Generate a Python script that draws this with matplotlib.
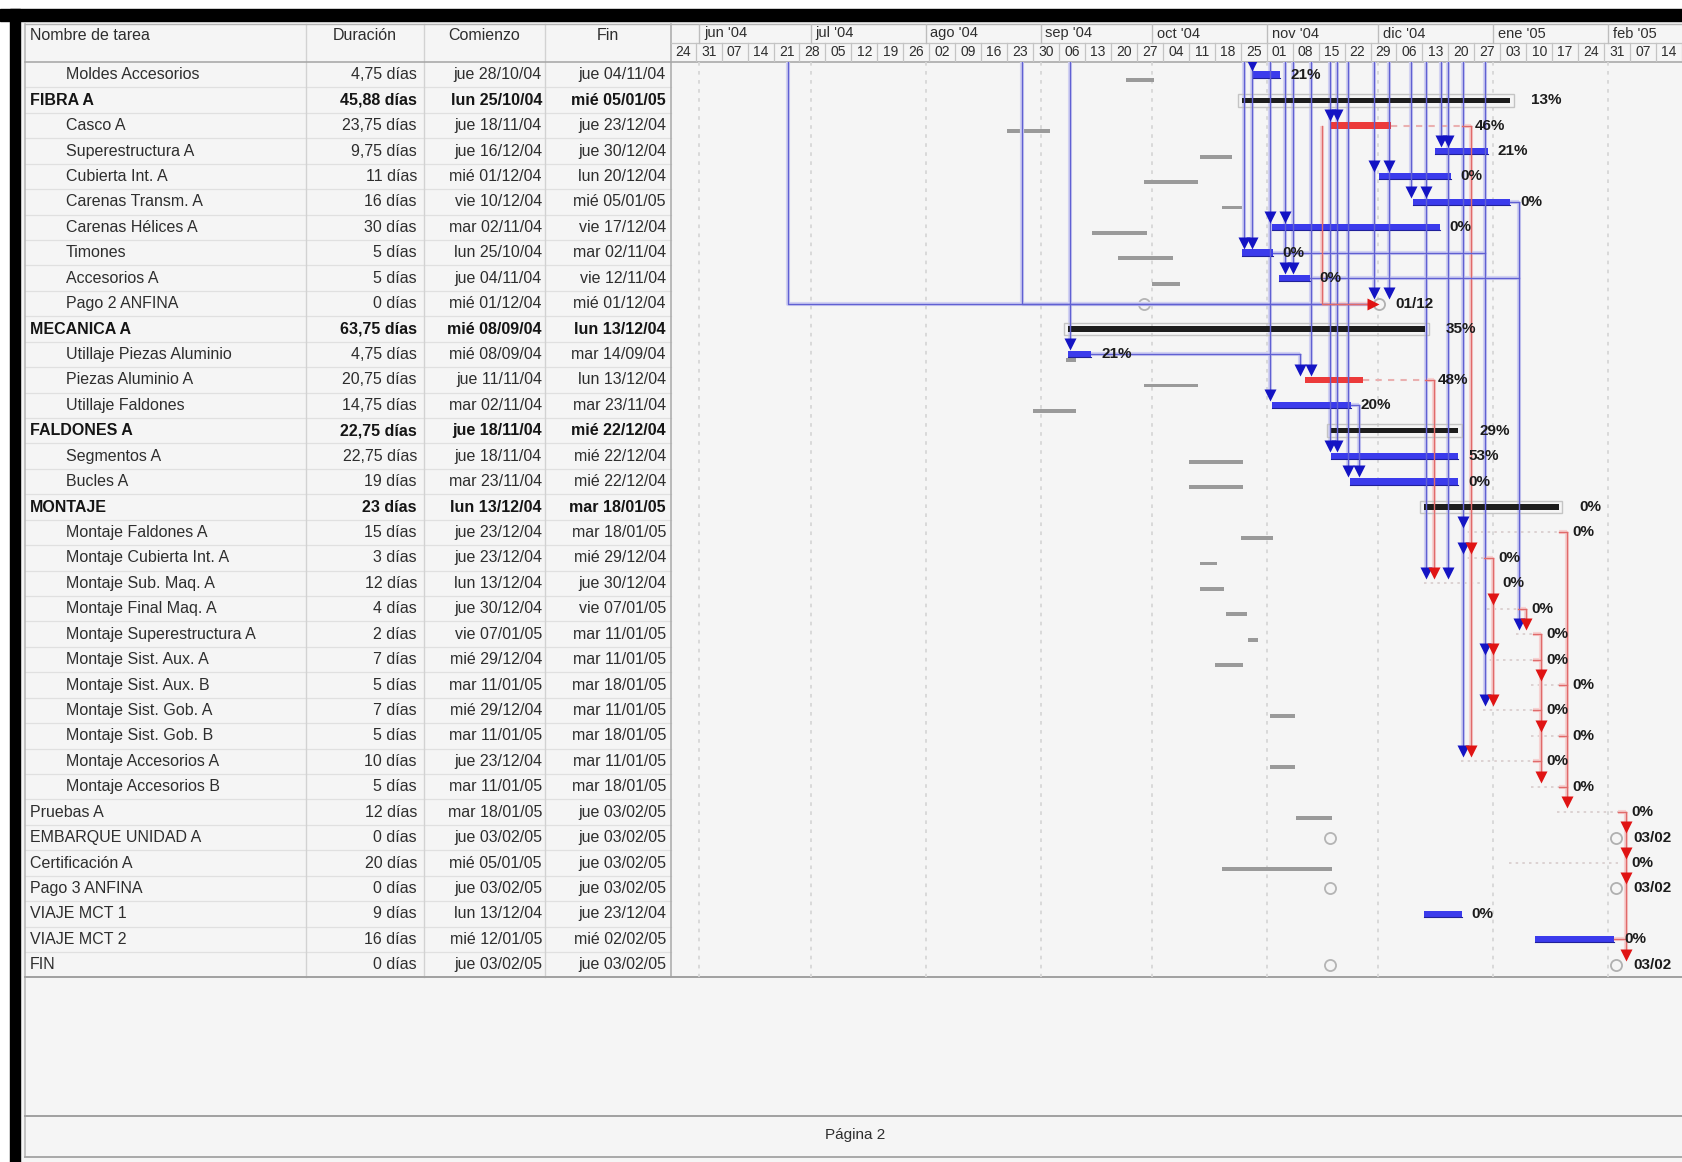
import matplotlib
matplotlib.use("Agg")
import matplotlib.pyplot as plt
import matplotlib.dates as mdates
from matplotlib.patches import Rectangle
from datetime import datetime, timedelta

plt.rcParams["font.family"] = ["Liberation Sans", "DejaVu Sans"]

# ---------------------------------------------------------------- data
task_names = [
    "Moldes Accesorios", "FIBRA A", "Casco A", "Superestructura A", "Cubierta Int. A",
    "Carenas Transm. A", "Carenas Hélices A", "Timones", "Accesorios A", "Pago 2 ANFINA",
    "MECANICA A", "Utillaje Piezas Aluminio", "Piezas Aluminio A", "Utillaje Faldones",
    "FALDONES A", "Segmentos A", "Bucles A", "MONTAJE", "Montaje Faldones A",
    "Montaje Cubierta Int. A", "Montaje Sub. Maq. A", "Montaje Final Maq. A",
    "Montaje Superestructura A", "Montaje Sist. Aux. A", "Montaje Sist. Aux. B",
    "Montaje Sist. Gob. A", "Montaje Sist. Gob. B", "Montaje Accesorios A",
    "Montaje Accesorios B", "Pruebas A", "EMBARQUE UNIDAD A", "Certificación A",
    "Pago 3 ANFINA", "VIAJE MCT 1", "VIAJE MCT 2", "FIN",
]
task_indent = [1, 0, 1, 1, 1, 1, 1, 1, 1, 1, 0, 1, 1, 1, 0, 1, 1, 0,
               1, 1, 1, 1, 1, 1, 1, 1, 1, 1, 1, 0, 0, 0, 0, 0, 0, 0]
durations = [
    "4,75 días", "45,88 días", "23,75 días", "9,75 días", "11 días", "16 días",
    "30 días", "5 días", "5 días", "0 días", "63,75 días", "4,75 días", "20,75 días",
    "14,75 días", "22,75 días", "22,75 días", "19 días", "23 días", "15 días", "3 días",
    "12 días", "4 días", "2 días", "7 días", "5 días", "7 días", "5 días", "10 días",
    "5 días", "12 días", "0 días", "20 días", "0 días", "9 días", "16 días", "0 días",
]
starts = [
    "jue 28/10/04", "lun 25/10/04", "jue 18/11/04", "jue 16/12/04", "mié 01/12/04",
    "vie 10/12/04", "mar 02/11/04", "lun 25/10/04", "jue 04/11/04", "mié 01/12/04",
    "mié 08/09/04", "mié 08/09/04", "jue 11/11/04", "mar 02/11/04", "jue 18/11/04",
    "jue 18/11/04", "mar 23/11/04", "lun 13/12/04", "jue 23/12/04", "jue 23/12/04",
    "lun 13/12/04", "jue 30/12/04", "vie 07/01/05", "mié 29/12/04", "mar 11/01/05",
    "mié 29/12/04", "mar 11/01/05", "jue 23/12/04", "mar 11/01/05", "mar 18/01/05",
    "jue 03/02/05", "mié 05/01/05", "jue 03/02/05", "lun 13/12/04", "mié 12/01/05",
    "jue 03/02/05",
]
finishes = [
    "jue 04/11/04", "mié 05/01/05", "jue 23/12/04", "jue 30/12/04", "lun 20/12/04",
    "mié 05/01/05", "vie 17/12/04", "mar 02/11/04", "vie 12/11/04", "mié 01/12/04",
    "lun 13/12/04", "mar 14/09/04", "lun 13/12/04", "mar 23/11/04", "mié 22/12/04",
    "mié 22/12/04", "mié 22/12/04", "mar 18/01/05", "mar 18/01/05", "mié 29/12/04",
    "jue 30/12/04", "vie 07/01/05", "mar 11/01/05", "mar 11/01/05", "mar 18/01/05",
    "mar 11/01/05", "mar 18/01/05", "mar 11/01/05", "mar 18/01/05", "jue 03/02/05",
    "jue 03/02/05", "jue 03/02/05", "jue 03/02/05", "jue 23/12/04", "mié 02/02/05",
    "jue 03/02/05",
]
# task = normal bar, crit = critical bar with progress, summary, milestone,
# pending = not yet drawn (dotted trace only)
bar_kinds = [
    "task", "summary", "crit", "task", "task", "task", "task", "task", "task", "milestone",
    "summary", "task", "crit", "task", "summary", "task", "task", "summary",
    "pending", "pending", "pending", "pending", "pending", "pending", "pending",
    "pending", "pending", "pending", "pending", "pending", "milestone", "pending",
    "milestone", "task", "task", "milestone",
]
percent_complete = [21, 13, 46, 21, 0, 0, 0, 0, 0, 0, 35, 21, 48, 20, 29, 53, 0, 0,
                    0, 0, 0, 0, 0, 0, 0, 0, 0, 0, 0, 0, 0, 0, 0, 0, 0, 0]
baseline_starts = [
    "24/09/04", "", "23/08/04", "14/10/04", "29/09/04", "20/10/04", "15/09/04",
    "22/09/04", "01/10/04", "29/09/04", "", "08/09/04", "29/09/04", "30/08/04", "",
    "11/10/04", "11/10/04", "", "25/10/04", "14/10/04", "14/10/04", "21/10/04",
    "27/10/04", "18/10/04", "", "02/11/04", "", "02/11/04", "", "09/11/04",
    "18/11/04", "20/10/04", "18/11/04", "", "", "18/11/04",
]
baseline_ends = [
    "01/10/04", "", "03/09/04", "22/10/04", "13/10/04", "25/10/04", "29/09/04",
    "06/10/04", "08/10/04", "29/09/04", "", "10/09/04", "13/10/04", "10/09/04", "",
    "25/10/04", "25/10/04", "", "02/11/04", "18/10/04", "20/10/04", "26/10/04",
    "29/10/04", "25/10/04", "", "08/11/04", "", "08/11/04", "", "18/11/04",
    "18/11/04", "18/11/04", "18/11/04", "", "", "18/11/04",
]
# dependency connectors: (date of the vertical run, source rows, target rows, critical)
# source row 0 = predecessor on the previous page
connectors = [
    ("09/09/04", [0], [12], False),
    ("26/10/04", [0], [8], False),
    ("28/10/04", [0], [1, 8], False),
    ("02/11/04", [0], [7, 14], False),
    ("06/11/04", [0], [7, 9], False),
    ("08/11/04", [0], [9], False),
    ("10/11/04", [12], [13], False),
    ("13/11/04", [0], [13], False),
    ("18/11/04", [0], [3, 16], False),
    ("20/11/04", [0], [3, 16], False),
    ("23/11/04", [0], [17], False),
    ("26/11/04", [14], [17], False),
    ("30/11/04", [0], [5, 10], False),
    ("04/12/04", [0], [5, 10], False),
    ("10/12/04", [0], [6], False),
    ("14/12/04", [0], [6, 21], False),
    ("16/12/04", [13], [21], True),
    ("18/12/04", [0], [4], False),
    ("20/12/04", [0], [4, 21], False),
    ("24/12/04", [0], [19, 20, 28], False),
    ("26/12/04", [3], [20, 28], True),
    ("30/12/04", [0, 8], [24, 26], False),
    ("01/01/05", [20], [22, 24, 26], True),
    ("08/01/05", [6, 9], [23], False),
    ("10/01/05", [22], [23], True),
    ("14/01/05", [23, 24, 26, 28], [25, 27, 29], True),
    ("21/01/05", [19, 25, 27, 29], [30], True),
    ("06/02/05", [30, 35], [31, 32, 33, 36], True),
]
# links entering a milestone from the side: (date, source row, target row, critical)
side_links = [
    ("25/06/04", 0, 10, False),
    ("27/08/04", 0, 10, False),
    ("16/11/04", 3, 10, True),
]
month_starts = ["01/06/04", "01/07/04", "01/08/04", "01/09/04", "01/10/04",
                "01/11/04", "01/12/04", "01/01/05", "01/02/05"]
month_labels = ["jun '04", "jul '04", "ago '04", "sep '04", "oct '04",
                "nov '04", "dic '04", "ene '05", "feb '05"]
first_week = "24/05/04"
column_titles = ["Nombre de tarea", "Duración", "Comienzo", "Fin"]
footer_text = "Página 2"

# ---------------------------------------------------------------- helpers
def d(s):
    return datetime.strptime(s.split()[-1], "%d/%m/%y")

def num(dt):
    return mdates.date2num(dt)

W, H = 1683, 1162
N = len(task_names)
ROW_H = 25.43
X_COLS = [25, 306, 424, 545, 671]
Y_TOP, Y_TIER, Y_BODY = 24, 43, 62
Y_BOT = Y_BODY + N * ROW_H
PX_PER_DAY = 3.708
T0 = num(d(first_week)) + 0.35
T1 = T0 + (W - X_COLS[-1]) / PX_PER_DAY

fig = plt.figure(figsize=(W / 100, H / 100), dpi=100)
fig.patch.set_facecolor("white")

def px_axes(x0, y0, x1, y1):
    return fig.add_axes([x0 / W, 1 - y1 / H, (x1 - x0) / W, (y1 - y0) / H])

PAGE = "#f5f5f5"
TXT = "#2e2e2e"

# ---------------------------------------------------------------- page, frame, grid
bg = px_axes(0, 0, W, H)
bg.set_xlim(0, W)
bg.set_ylim(H, 0)
bg.axis("off")
bg.add_patch(Rectangle((19, 21), W - 19, H - 21, color=PAGE, zorder=0))
bg.add_patch(Rectangle((0, 9), W, 12, color="black", zorder=1))
bg.add_patch(Rectangle((10, 9), 10, H - 9, color="black", zorder=1))

for k in range(1, N):
    y = Y_BODY + k * ROW_H
    bg.plot([X_COLS[0], X_COLS[-1]], [y, y], color="#e0e0e0", lw=0.9, zorder=1)
for x in X_COLS[1:-1]:
    bg.plot([x, x], [Y_TOP, Y_BOT], color="#d2d2d2", lw=1.0, zorder=1)
bg.plot([X_COLS[-1]] * 2, [Y_TOP, Y_BOT], color="#a9a9a9", lw=1.1, zorder=1)
bg.plot([X_COLS[0]] * 2, [Y_TOP, 1157], color="#b4b4b4", lw=1.1, zorder=1)
bg.plot([X_COLS[0], W], [Y_TOP, Y_TOP], color="#b4b4b4", lw=1.0, zorder=1)
bg.plot([X_COLS[0], W], [Y_BODY, Y_BODY], color="#a4a4a4", lw=1.1, zorder=1)
bg.plot([X_COLS[-1], W], [Y_TIER, Y_TIER], color="#c4c4c4", lw=0.9, zorder=1)
bg.plot([X_COLS[0], W], [Y_BOT, Y_BOT], color="#a0a0a0", lw=1.4, zorder=1)
bg.plot([X_COLS[0], W], [1116, 1116], color="#a0a0a0", lw=1.4, zorder=1)
bg.plot([X_COLS[0], W], [1157, 1157], color="#a8a8a8", lw=1.4, zorder=1)
bg.text(855, 1135, footer_text, ha="center", va="center", fontsize=11, color=TXT)

bg.text(30, 36, column_titles[0], ha="left", va="center", fontsize=11.5, color=TXT)
for title, x0, x1 in zip(column_titles[1:], X_COLS[1:-1], X_COLS[2:]):
    bg.text((x0 + x1) / 2, 36, title, ha="center", va="center", fontsize=11.5, color=TXT)

# ---------------------------------------------------------------- table
tab = px_axes(X_COLS[0], Y_BODY, X_COLS[-1], Y_BOT)
tab.set_xlim(X_COLS[0], X_COLS[-1])
tab.set_ylim(N + 0.5, 0.5)
tab.axis("off")
for i in range(N):
    row = i + 1
    bold = bar_kinds[i] == "summary"
    kw = dict(va="center", fontsize=11.5, color="#151515" if bold else TXT,
              fontweight="bold" if bold else "normal")
    tab.text(30 if task_indent[i] == 0 else 66, row, task_names[i], ha="left", **kw)
    tab.text(417, row, durations[i], ha="right", **kw)
    tab.text(542, row, starts[i], ha="right", **kw)
    tab.text(666, row, finishes[i], ha="right", **kw)

# ---------------------------------------------------------------- timescale header
hdr = px_axes(X_COLS[-1], Y_TOP, W, Y_BODY)
hdr.set_xlim(T0, T1)
hdr.set_ylim(2, 0)
hdr.axis("off")
for ms, lab in zip(month_starts, month_labels):
    x = num(d(ms))
    hdr.plot([x, x], [0, 1], color="#bdbdbd", lw=1.0)
    hdr.annotate(lab, (x, 0.5), xytext=(3.5, 0), textcoords="offset points",
                 ha="left", va="center", fontsize=10.5, color=TXT)
wk = d(first_week)
while num(wk) < T1:
    x = num(wk)
    hdr.plot([x, x], [1, 2], color="#c4c4c4", lw=0.9)
    if x + 6 < T1:
        hdr.text(x + 3.5, 1.5, wk.strftime("%d"), ha="center", va="center",
                 fontsize=10, color=TXT)
    wk += timedelta(days=7)

# ---------------------------------------------------------------- gantt body
gan = px_axes(X_COLS[-1], Y_BODY, W, Y_BOT)
gan.set_xlim(T0, T1)
gan.set_ylim(N + 0.5, 0.5)
gan.axis("off")

for ms in month_starts:
    x = num(d(ms))
    gan.plot([x, x], [0.5, N + 0.5], color="#d6d6d6", lw=1.3, ls=(0, (2, 3)), zorder=1)

bar_start = [num(d(s) + timedelta(hours=8)) for s in starts]
bar_end = [num(d(f) + timedelta(hours=17)) for f in finishes]

# baselines
for i in range(N):
    if not baseline_starts[i]:
        continue
    b0, b1 = num(d(baseline_starts[i])), num(d(baseline_ends[i]))
    row = i + 1
    if bar_kinds[i] == "milestone":
        gan.plot(b0, row, marker="o", ms=8, mfc=PAGE, mec="#b4b4b4", mew=1.3, zorder=3)
    else:
        gan.barh(row + 0.22, b1 - b0 + 0.6, left=b0, height=0.15, color="#9a9a9a",
                 zorder=2)

BLUE_HALO, BLUE_CORE, BLUE_HEAD = "#d2d2f2", "#6060d2", "#1414c4"
RED_HALO, RED_CORE, RED_HEAD = "#f6d2d2", "#e06a6a", "#e01414"

def link_line(xs, ys, crit, z=3):
    halo, core = (RED_HALO, RED_CORE) if crit else (BLUE_HALO, BLUE_CORE)
    gan.plot(xs, ys, color=halo, lw=3.0, solid_capstyle="butt", zorder=z)
    gan.plot(xs, ys, color=core, lw=1.0, zorder=z + 2.5)

def feeder(row, x, crit):
    i = row - 1
    x_from = bar_end[i] if x >= bar_end[i] else bar_start[i]
    link_line([x_from, x], [row, row], crit)

# dependency connectors
for date_s, src, tgt, crit in connectors:
    x = num(d(date_s))
    y0 = 0.5 if 0 in src else min(src)
    y1 = max(tgt) - 0.4
    link_line([x, x], [y0, y1], crit)
    for r in src:
        if r > 0:
            feeder(r, x, crit)
    for r in tgt:
        gan.plot(x, r - 0.4, marker="v", ms=8.5, color=RED_HEAD if crit else BLUE_HEAD,
                 mec="none", zorder=8)

for date_s, src, tgt, crit in side_links:
    x = num(d(date_s))
    y0 = 0.5 if src == 0 else src
    x_end = bar_start[tgt - 1] - 1.6
    link_line([x, x, x_end], [y0, tgt, tgt], crit, z=3 + (1 if crit else 0))
    if crit:
        gan.plot(x_end, tgt, marker=">", ms=9, color=RED_HEAD, mec="none", zorder=8)

# bars
for i in range(N):
    row = i + 1
    kind = bar_kinds[i]
    s, e = bar_start[i], bar_end[i]
    if kind == "task":
        gan.barh(row, e - s, left=s, height=0.26, color="#3b3bec", zorder=4)
        gan.plot([s, e], [row + 0.12, row + 0.12], color="#20209a", lw=0.8, zorder=4)
    elif kind == "crit":
        p = s + (e - s) * percent_complete[i] / 100
        gan.plot([p, e], [row, row], color="#eab0b0", lw=1.5, ls=(0, (3, 3)), zorder=4)
        gan.barh(row, p - s, left=s, height=0.26, color="#ec3a3a", zorder=4)
    elif kind == "summary":
        gan.barh(row, e - s + 2.0, left=s - 1.0, height=0.5, facecolor="none",
                 edgecolor="#c4c4c4", lw=1.0, zorder=4)
        gan.barh(row, e - s, left=s, height=0.2, color="#1d1d1d", zorder=5)
    elif kind == "pending":
        gan.plot([s, e], [row, row], color="#d8cccc", lw=1.2, ls=(0, (1.5, 2.5)), zorder=2)
    elif kind == "milestone":
        gan.plot(s, row, marker="o", ms=8, mfc=PAGE, mec="#b0b0b0", mew=1.3, zorder=7)

# labels
for i in range(N):
    row = i + 1
    kind = bar_kinds[i]
    if kind == "milestone":
        lab, x, off = d(starts[i]).strftime("%d/%m"), bar_start[i], 12
    else:
        lab, x = f"{percent_complete[i]}%", bar_end[i]
        off = {"summary": 15, "pending": 10, "crit": 9}.get(kind, 7)
    gan.annotate(lab, (x, row), xytext=(off, 0), textcoords="offset points",
                 ha="left", va="center", fontsize=11, fontweight="bold", color="#1c1c1c",
                 zorder=9)

fig.savefig("out.png", dpi=100, facecolor="white")
